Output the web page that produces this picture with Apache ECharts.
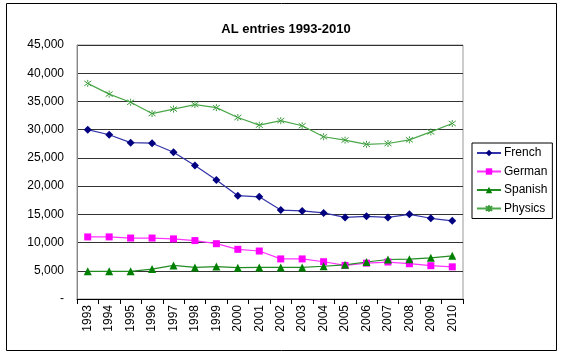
<!DOCTYPE html>
<html>
<head>
<meta charset="utf-8">
<script src="https://cdn.jsdelivr.net/npm/echarts@6/dist/echarts.min.js"></script>
<style>
html,body{margin:0;padding:0;background:#fff;}
#chart{width:566px;height:357px;}
</style>
</head>
<body>
<div id="chart"></div>
<script>
const years = ['1993','1994','1995','1996','1997','1998','1999','2000','2001','2002','2003','2004','2005','2006','2007','2008','2009','2010'];
const french  = [30000,29100,27700,27600,26000,23650,21100,18300,18100,15750,15600,15250,14450,14650,14450,15000,14300,13850];
const german  = [11000,11000,10800,10800,10650,10350,9800,8800,8500,7100,7100,6600,5950,6350,6550,6250,5900,5700];
const spanish = [4900,4900,4900,5300,5950,5600,5750,5550,5600,5600,5600,5800,6050,6550,7000,7050,7300,7650];
const physics = [38200,36300,34850,32850,33650,34450,33900,32150,30800,31600,30700,28750,28150,27400,27550,28200,29600,31100];
const yTicks = [0,5000,10000,15000,20000,25000,30000,35000,40000,45000];

const font = 'Arial, "Liberation Sans", sans-serif';
const xPath = 'path://M0,0L10,10M10,0L0,10M5,-2L5,2M5,8L5,12';

const chart = echarts.init(document.getElementById('chart'), null, {renderer:'canvas'});
chart.setOption({
  animation:false,
  backgroundColor:'#fff',
  title:{
    text:'AL entries 1993-2010',
    left:281, top:18, textAlign:'center',
    textStyle:{fontFamily:font,fontSize:13,fontWeight:'bold',color:'#000'}
  },
  graphic:[{
    type:'rect', shape:{x:6.5,y:3.5,width:550,height:347},
    style:{fill:'none',stroke:'#000',lineWidth:1}, silent:true, z:-1
  }],
  grid:{left:77,right:103,top:45,bottom:58,show:true,borderColor:'#999',borderWidth:1},
  legend:{
    orient:'vertical', left:472, top:143,
    padding:[4,5,4,4], itemGap:6.5, itemWidth:24, itemHeight:8,
    borderColor:'#000', borderWidth:1,
    textStyle:{fontFamily:font,fontSize:12,color:'#000',padding:[0,0,0,-2]},
    data:['French','German','Spanish','Physics']
  },
  xAxis:{
    type:'category', data:years, boundaryGap:true,
    axisLine:{lineStyle:{color:'#000',width:1}},
    axisTick:{show:true,length:5,lineStyle:{color:'#000'}},
    axisLabel:{rotate:90,margin:6,fontFamily:font,fontSize:12,color:'#000'},
    splitLine:{show:false}
  },
  yAxis:{
    type:'value', min:0, max:45000, interval:5000,
    axisLine:{show:true,lineStyle:{color:'#888'}},
    axisTick:{show:false},
    axisLabel:{margin:13,fontFamily:font,fontSize:12,color:'#000',
      formatter:function(v){return v===0?'-':v.toLocaleString('en-US');}},
    splitLine:{show:true,lineStyle:{color:'#333',width:1}}
  },
  series:[
    {name:'French',type:'line',data:french,symbol:'diamond',symbolSize:8,
     itemStyle:{color:'#000080'},lineStyle:{color:'#3333aa',width:1.2}},
    {name:'German',type:'line',data:german,symbol:'rect',symbolSize:7,
     itemStyle:{color:'#ff00ff'},lineStyle:{color:'#ff33ff',width:1.2}},
    {name:'Spanish',type:'line',data:spanish,symbol:'triangle',symbolSize:8,
     itemStyle:{color:'#008000'},lineStyle:{color:'#228b22',width:1.2}},
    {name:'Physics',type:'line',data:physics,symbol:xPath,symbolSize:7,
     itemStyle:{color:'#3c9c3c',borderColor:'#3c9c3c',borderWidth:1},
     lineStyle:{color:'#4aa84a',width:1.2}}
  ]
});
</script>
</body>
</html>
